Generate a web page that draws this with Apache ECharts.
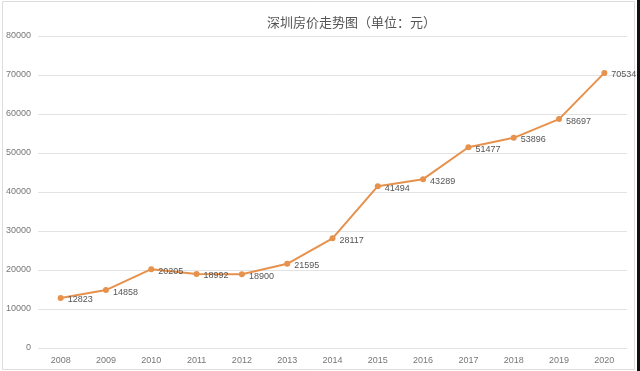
<!DOCTYPE html>
<html><head><meta charset="utf-8">
<script src="https://cdn.jsdelivr.net/npm/echarts@6/dist/echarts.min.js"></script>
<style>html,body{margin:0;padding:0;background:#fff}#c{width:640px;height:371px}</style>
</head><body><div id="c"></div>
<script>
const years = ['2008','2009','2010','2011','2012','2013','2014','2015','2016','2017','2018','2019','2020'];
const prices = [12823,14858,20205,18992,18900,21595,28117,41494,43289,51477,53896,58697,70534];
const titleText = '深圳房价走势图（单位：元）';

const chart = echarts.init(document.getElementById('c'), null, {renderer:'canvas'});
chart.setOption({
  backgroundColor:'#fff',
  animation:false,
  title:{text:titleText,left:262,top:11,
    textStyle:{fontSize:13,fontWeight:'normal',color:'#555',fontFamily:'Noto Sans CJK SC'}},
  grid:{left:38,right:13,top:36,bottom:23,containLabel:false},
  xAxis:{type:'category',data:years,boundaryGap:true,
    axisLine:{show:false},axisTick:{show:false},
    axisLabel:{color:'#777',fontSize:9,margin:8,fontFamily:'Liberation Sans'}},
  yAxis:{type:'value',min:0,max:80000,interval:10000,
    axisLine:{show:false},axisTick:{show:false},
    axisLabel:{color:'#777',fontSize:9,margin:7,fontFamily:'Liberation Sans',formatter:v=>String(v)},
    splitLine:{lineStyle:{color:'#e3e3e3',width:1}}},
  series:[{type:'line',data:prices,symbol:'circle',symbolSize:6,
    lineStyle:{color:'#e6914c',width:2},
    itemStyle:{color:'#e6914c'},
    label:{show:true,position:'right',distance:4,offset:[0,2],color:'#555',fontSize:9,fontFamily:'Liberation Sans'}}],
  graphic:[
    {type:'rect',shape:{x:2.5,y:1.5,width:632,height:368},style:{fill:null,stroke:'#ddd',lineWidth:1},silent:true},
    {type:'rect',shape:{x:637,y:0,width:3,height:371},style:{fill:'#111'},silent:true}
  ]
});
</script></body></html>
